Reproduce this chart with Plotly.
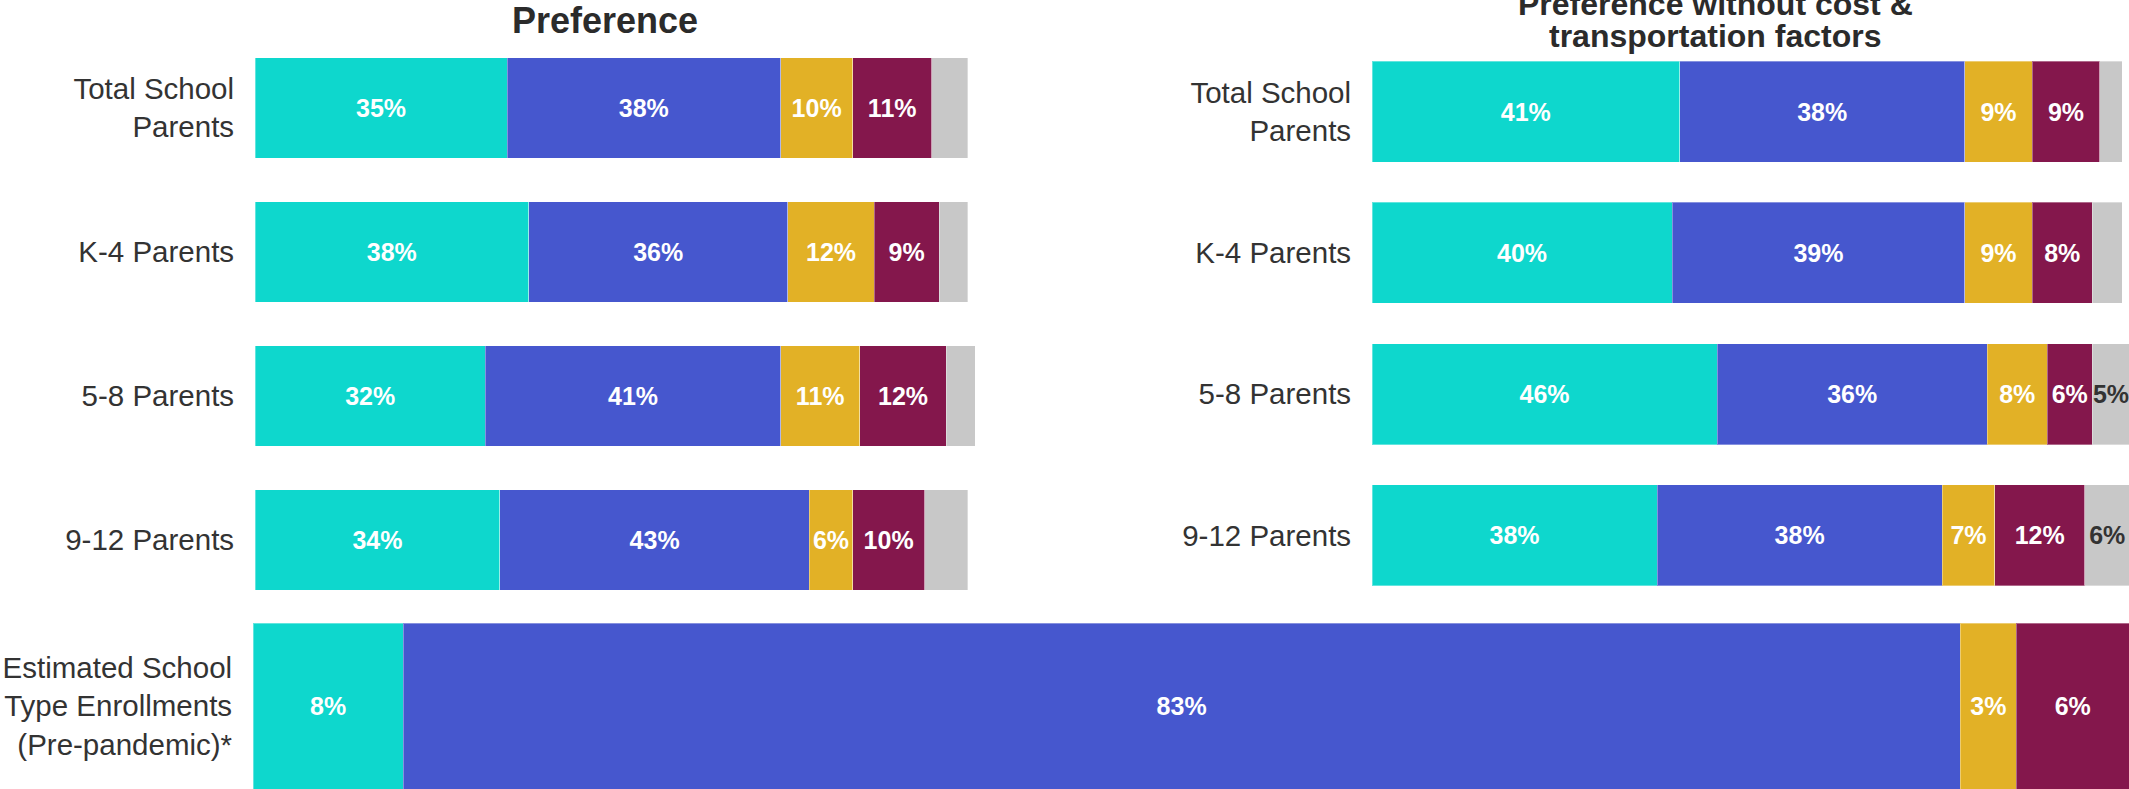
import plotly.graph_objects as go

W, H = 2129, 789

# ---------------- data ----------------
groups = ["Total School<br>Parents", "K-4 Parents", "5-8 Parents", "9-12 Parents"]
series_names = ["Public", "Private", "Charter", "Home school", "Other"]  # segment order

pref_teal = [35, 38, 32, 34]
pref_blue = [38, 36, 41, 43]
pref_gold = [10, 12, 11, 6]
pref_maroon = [11, 9, 12, 10]
pref_gray = [5, 4, 4, 6]
pref_gray_text = ["", "", "", ""]

nocost_teal = [41, 40, 46, 38]
nocost_blue = [38, 39, 36, 38]
nocost_gold = [9, 9, 8, 7]
nocost_maroon = [9, 8, 6, 12]
nocost_gray = [3, 4, 5, 6]
nocost_gray_text = ["", "", "5%", "6%"]

enroll_label = ["Estimated School<br>Type Enrollments<br>(Pre-pandemic)*"]
enroll_teal = [8]
enroll_blue = [83]
enroll_gold = [3]
enroll_maroon = [6]

colors = ["#0ED7CD", "#4657CE", "#E2B126", "#84174C", "#C8C8C8"]

FONT = "Liberation Sans, Arial, sans-serif"
TXT = "#333333"


def px_x(a, b):
    return [a / W, b / W]


def px_y(top, bottom):
    return [1 - bottom / H, 1 - top / H]


fig = go.Figure()


def add_stack(values_list, texts_list, ylabels, xaxis, yaxis, width):
    for i, (vals, texts) in enumerate(zip(values_list, texts_list)):
        is_gray = i == 4
        fig.add_trace(go.Bar(
            y=ylabels, x=vals, orientation="h",
            name=series_names[i],
            marker=dict(color=colors[i], line=dict(color="rgba(255,255,255,0.35)", width=1)),
            width=width,
            text=texts,
            textposition="inside",
            insidetextanchor="middle",
            constraintext="none",
            textangle=0,
            textfont=dict(family=FONT, size=25, weight="bold",
                          color=TXT if is_gray else "white"),
            xaxis=xaxis, yaxis=yaxis, showlegend=False, hoverinfo="skip",
        ))


def pct(v):
    return [f"{x}%" for x in v]


add_stack(
    [pref_teal, pref_blue, pref_gold, pref_maroon, pref_gray],
    [pct(pref_teal), pct(pref_blue), pct(pref_gold), pct(pref_maroon), pref_gray_text],
    groups, "x", "y", 0.70)
add_stack(
    [nocost_teal, nocost_blue, nocost_gold, nocost_maroon, nocost_gray],
    [pct(nocost_teal), pct(nocost_blue), pct(nocost_gold), pct(nocost_maroon), nocost_gray_text],
    groups, "x2", "y2", 0.715)
add_stack(
    [enroll_teal, enroll_blue, enroll_gold, enroll_maroon],
    [pct(enroll_teal), pct(enroll_blue), pct(enroll_gold), pct(enroll_maroon)],
    enroll_label, "x3", "y3", 1.0)

xcommon = dict(visible=False, showgrid=False, zeroline=False, fixedrange=True, automargin=False)
ycommon = dict(type="category", showgrid=False, zeroline=False, showline=False, automargin=False,
               ticks="outside", ticklen=14, tickcolor="rgba(0,0,0,0)",
               tickfont=dict(family=FONT, size=29.5, color=TXT))

fig.update_layout(
    width=W, height=H,
    margin=dict(l=0, r=0, t=0, b=0, pad=0),
    paper_bgcolor="white", plot_bgcolor="white",
    barmode="stack",
    showlegend=False,
    xaxis=dict(domain=px_x(255, 975), range=[0, 100], anchor="y", **xcommon),
    yaxis=dict(domain=px_y(36, 612), range=[3.5, -0.5], anchor="x",
               categoryorder="array", categoryarray=groups, **ycommon),
    xaxis2=dict(domain=px_x(1372, 2129), range=[0, 100.9], anchor="y2", **xcommon),
    yaxis2=dict(domain=px_y(41, 606), range=[3.5, -0.5], anchor="x2",
                categoryorder="array", categoryarray=groups, **ycommon),
    xaxis3=dict(domain=px_x(253, 2129), range=[0, 100], anchor="y3", **xcommon),
    yaxis3=dict(domain=px_y(623, 789), range=[-0.5, 0.5], anchor="x3", **ycommon),
    annotations=[
        dict(text="<b>Preference</b>", x=605 / W, y=1 - 20.5 / H, xref="paper", yref="paper",
             xanchor="center", yanchor="middle", showarrow=False,
             font=dict(family=FONT, size=36, color="#2b2b2b")),
        dict(text="<b>Preference without cost &</b>", x=1715 / W, y=1 - 4 / H,
             xref="paper", yref="paper", xanchor="center", yanchor="middle", showarrow=False,
             font=dict(family=FONT, size=32, color="#2b2b2b")),
        dict(text="<b>transportation factors</b>", x=1715 / W, y=1 - 36 / H,
             xref="paper", yref="paper", xanchor="center", yanchor="middle", showarrow=False,
             font=dict(family=FONT, size=32, color="#2b2b2b")),
    ],
)

fig.write_html("out.html",
               config={"displayModeBar": False},
               post_script="document.body.style.margin='0';document.body.style.overflow='hidden';")
